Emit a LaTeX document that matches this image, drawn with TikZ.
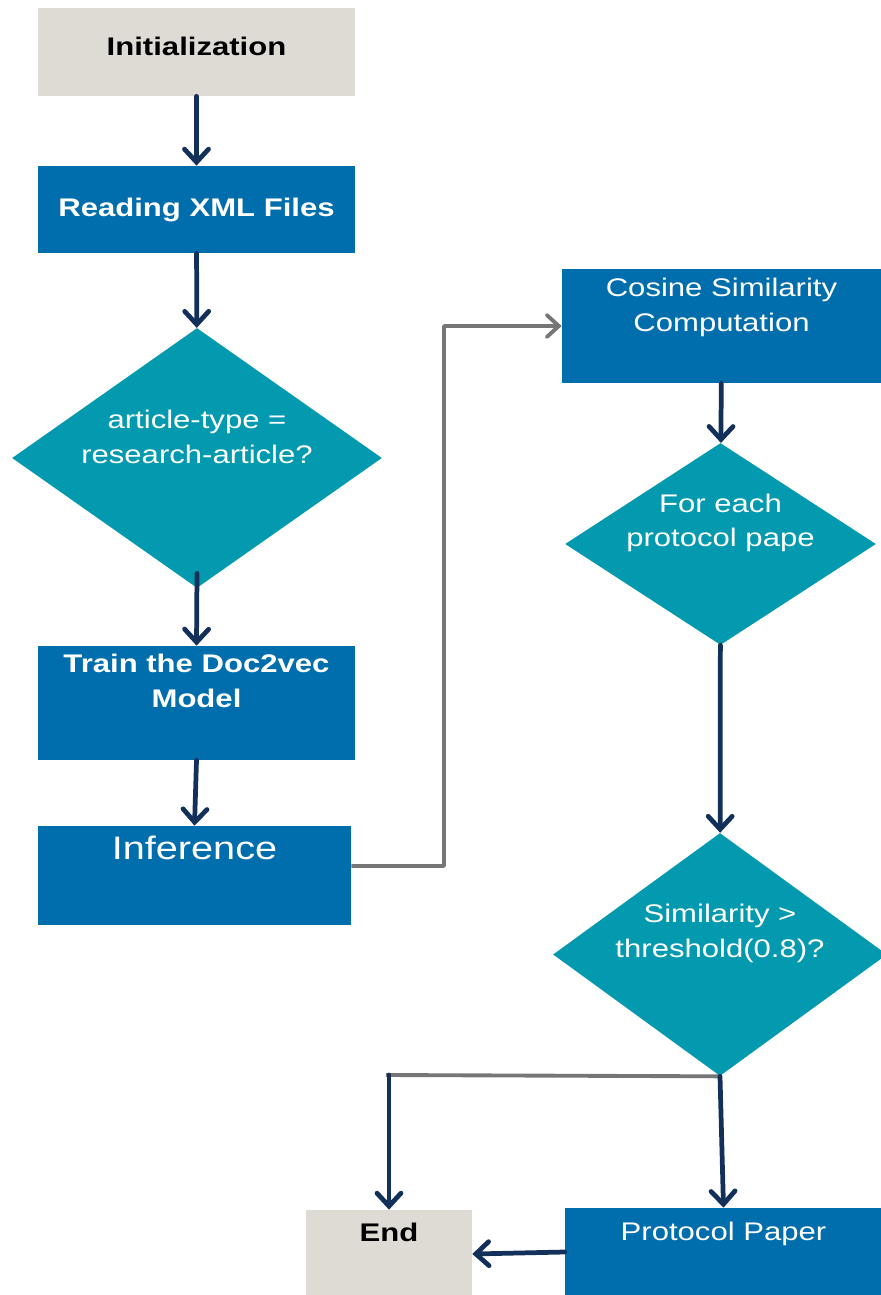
\documentclass[tikz,border=0pt]{standalone}
\usepackage{fontspec}
\setmainfont{Liberation Sans}[FakeStretch=1.22]
\usetikzlibrary{arrows.meta}
\usetikzlibrary{shapes.geometric}
\definecolor{startgray}{HTML}{DDDBD3}
\definecolor{stepblue}{HTML}{006EAD}
\definecolor{testteal}{HTML}{039AAF}
\definecolor{flownavy}{HTML}{13305A}
\definecolor{loopgray}{HTML}{767676}

\begin{document}
\begin{tikzpicture}[x=0.02cm,y=-0.02cm,line join=round,
  terminal/.style={rectangle,fill=startgray,inner sep=0pt,font=\bfseries\fontsize{14.5}{19.8}\selectfont},
  process/.style={rectangle,fill=stepblue,inner sep=0pt,text=white,align=center,font=\fontsize{14.5}{19.8}\selectfont},
  decision/.style={diamond,fill=testteal,inner sep=0pt},
  boxtext/.style={anchor=north,inner sep=0pt,text=white,align=center,font=\fontsize{14.5}{19.8}\selectfont},
  diatext/.style={inner sep=0pt,yshift=0.42cm,text=white,align=center,font=\fontsize{14.5}{19.8}\selectfont},
  flow/.style={draw=flownavy,line width=2.7pt,line cap=round,-{Straight Barb[length=2.6mm,width=4.8mm,line cap=round]}},
  loop/.style={draw=loopgray,line width=2.2pt},
  looparrow/.style={loop,-{Straight Barb[length=2.4mm,width=4.4mm,line cap=round]}}]
\clip (0,0) rectangle (881,1295);
% left column
\node[terminal,minimum width=6.34cm,minimum height=1.76cm,label={[anchor=north,inner sep=0pt,yshift=-0.58cm,font=\bfseries\fontsize{14.5}{19.8}\selectfont]north:Initialization}] (init) at (196.5,52) {};
\node[process,minimum width=6.34cm,minimum height=1.74cm,font=\bfseries\fontsize{14.5}{19.8}\selectfont] (read) at (196.5,209.5) {Reading XML Files};
\node[decision,minimum width=7.4cm,minimum height=5.2cm,label={[diatext]center:{article-type =\\research-article?}}] (type) at (197,458) {};
\node[process,minimum width=6.34cm,minimum height=2.28cm,label={[boxtext,yshift=-0.16cm,font=\bfseries\fontsize{14.5}{19.8}\selectfont]north:{Train the Doc2vec\\Model}}] (train) at (196.5,703) {};
\node[process,minimum width=6.26cm,minimum height=1.98cm,label={[boxtext,yshift=-0.2cm,font=\fontsize{18.5}{22}\selectfont]north:Inference}] (infer) at (194.5,875.5) {};
% right column
\node[process,minimum width=6.38cm,minimum height=2.28cm,label={[boxtext,yshift=-0.18cm]north:{Cosine Similarity\\Computation}}] (cosine) at (721.5,326) {};
\node[decision,minimum width=6.22cm,minimum height=4.04cm,label={[diatext]center:{For each\\protocol pape}}] (each) at (720.5,544) {};
\node[decision,minimum width=6.68cm,minimum height=4.86cm,label={[diatext]center:{Similarity >\\threshold(0.8)?}}] (thresh) at (720,954.5) {};
\node[process,minimum width=6.34cm,minimum height=1.76cm,label={[boxtext,yshift=-0.28cm]north:Protocol Paper}] (proto) at (723.5,1252) {};
\node[terminal,minimum width=3.32cm,minimum height=1.76cm,label={[anchor=north,inner sep=0pt,yshift=-0.26cm,font=\bfseries\fontsize{14.5}{19.8}\selectfont]north:End}] (end) at (389,1254) {};
\coordinate (bend) at (444,866);
\coordinate (split) at (386,1075);
% connectors
\draw[flow] (init) -- (read);
\draw[flow] (read) -- (type);
\draw[flow] ([yshift=0.3cm]type.south) -- (train.north);
\draw[flow] (train.south) -- (infer.north);
\draw[looparrow] ([yshift=0.19cm]infer.east) -- (bend) |- (cosine.west);
\draw[flow] (cosine) -- (each);
\draw[flow] (each) -- (thresh);
\draw[loop] (thresh.south) -- (split);
\draw[flow] ([xshift=0.06cm]split) -- ([xshift=0.06cm]split |- end.north);
\draw[flow] (thresh.south) -- (proto.north);
\draw[flow] (proto.west) -- (end.east);
\end{tikzpicture}
\end{document}
